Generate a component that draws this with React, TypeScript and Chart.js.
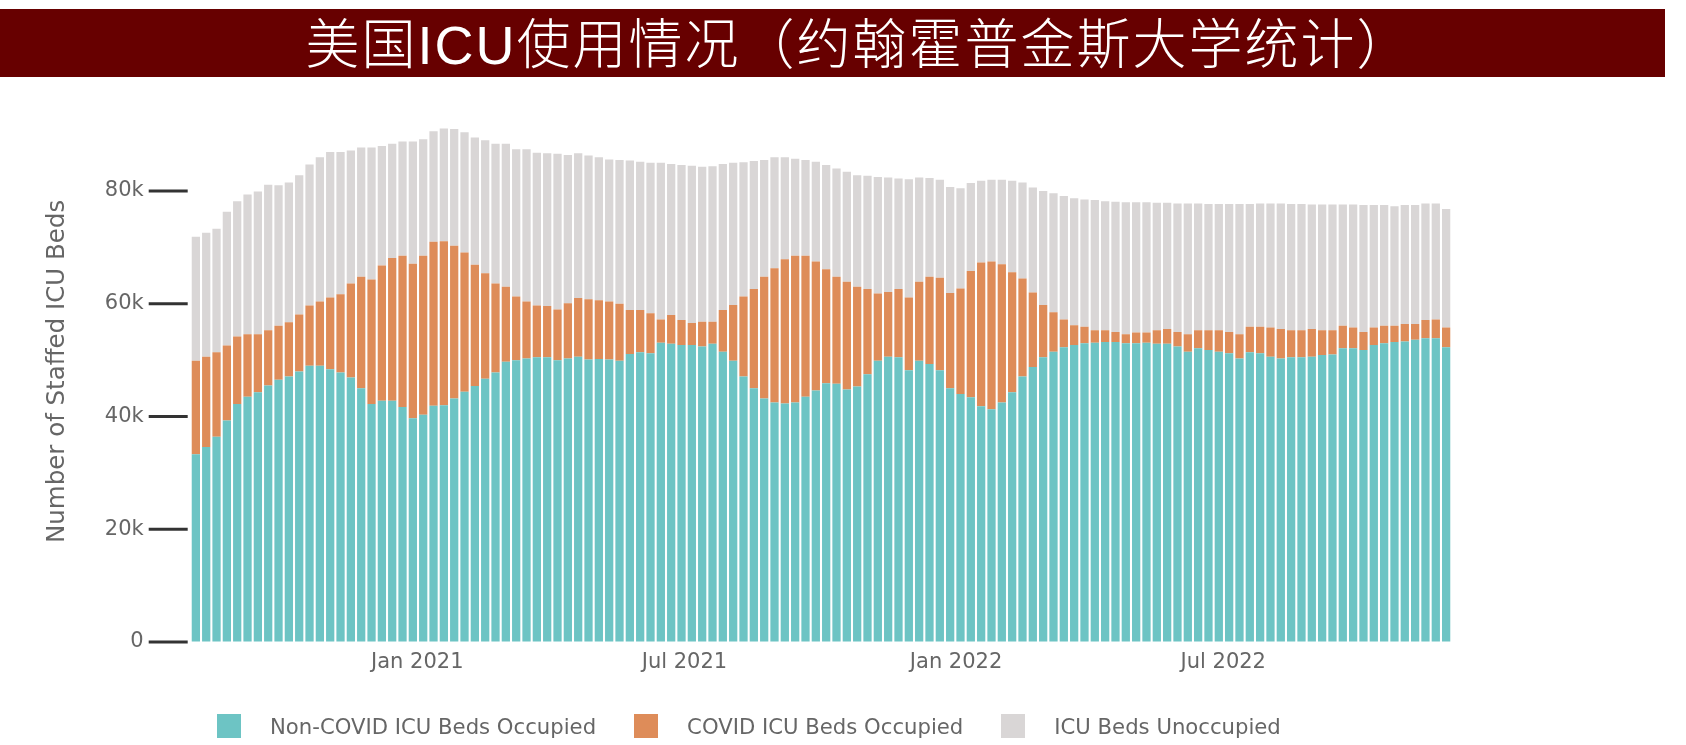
import { useEffect, useRef } from "react";
import { Chart, registerables } from "chart.js";

Chart.register(...registerables);

// Weekly ICU bed counts, one bar per week starting from this date.
const firstWeek = "2020-08-04";

const nonCovidOccupied = [
  33300, 34600, 36400, 39300, 42200, 43500, 44300, 45500, 46500, 47100,
  48000, 49000, 49000, 48400, 47800, 46900, 45000, 42200, 42800, 42800,
  41700, 39700, 40300, 41900, 42000, 43200, 44400, 45400, 46700, 47800,
  49700, 50000, 50300, 50500, 50500, 50000, 50300, 50600, 50100, 50200,
  50100, 49900, 51100, 51400, 51200, 53100, 52900, 52700, 52700, 52400,
  52900, 51500, 49900, 47100, 45000, 43200, 42500, 42300, 42500, 43500,
  44600, 45900, 45800, 44800, 45300, 47500, 49900, 50600, 50500, 48200,
  49900, 49300, 48200, 45000, 44000, 43400, 41800, 41300, 42500, 44300,
  47100, 48800, 50500, 51500, 52300, 52700, 53000, 53100, 53200, 53200,
  53000, 53000, 53100, 52900, 52900, 52400, 51500, 52100, 51800, 51500,
  51200, 50300, 51400, 51200, 50600, 50300, 50500, 50500, 50600, 50900,
  51000, 52100, 52100, 51800, 52700, 53000, 53200, 53300, 53600, 53900,
  53900, 52300,
];

const covidOccupied = [
  16600, 16000, 15000, 13300, 12000, 11100, 10300, 9800, 9600, 9600,
  10100, 10700, 11400, 12700, 13900, 16700, 19800, 22100, 24000, 25300,
  26800, 27400, 28200, 29100, 29100, 27100, 24700, 21500, 18700, 15800,
  13300, 11300, 10100, 9200, 9100, 9000, 9800, 10400, 10700, 10400,
  10300, 10100, 7800, 7500, 7100, 4100, 5100, 4400, 3900, 4400,
  3900, 7400, 9900, 14200, 17600, 21600, 23800, 25600, 26000, 25000,
  22900, 20200, 19000, 19100, 17700, 15100, 11900, 11500, 12100, 12900,
  14000, 15500, 16400, 16900, 18700, 22400, 25500, 26200, 24500, 21300,
  17400, 13200, 9300, 7000, 4900, 3500, 2900, 2200, 2100, 1800,
  1600, 1900, 1800, 2400, 2600, 2600, 3100, 3200, 3500, 3800,
  3800, 4300, 4500, 4700, 5200, 5200, 4800, 4800, 4900, 4400,
  4300, 4000, 3700, 3200, 3100, 3100, 2900, 3100, 2800, 3200,
  3300, 3500,
];

const unoccupiedBeds = [
  22000, 22000, 21900, 23700, 24000, 24800, 25300, 25800, 24900, 24800,
  24700, 25000, 25600, 25800, 25200, 23600, 22900, 23400, 21200, 20300,
  20300, 21700, 20700, 19600, 20000, 20700, 21300, 22600, 23600, 24800,
  25400, 26100, 27000, 27100, 27100, 27600, 26300, 25700, 25500, 25400,
  25200, 25500, 26500, 26300, 26700, 27800, 26800, 27500, 27900, 27500,
  27600, 25900, 25200, 23800, 22700, 20700, 19700, 18100, 17200, 17000,
  17700, 18500, 19200, 19500, 19800, 20100, 20700, 20300, 19600, 21000,
  18500, 17500, 17400, 18800, 17800, 15600, 14500, 14500, 15000, 16200,
  17000, 18600, 20200, 21100, 21900, 22500, 22600, 23100, 22900, 23100,
  23400, 23100, 23100, 22600, 22400, 22800, 23200, 22500, 22400, 22400,
  22700, 23100, 21800, 21900, 22000, 22300, 22400, 22400, 22100, 22300,
  22300, 21500, 21800, 22500, 21700, 21400, 21200, 21100, 21100, 20700,
  20600, 21000,
];

const seriesNames = [
  "Non-COVID ICU Beds Occupied",
  "COVID ICU Beds Occupied",
  "ICU Beds Unoccupied",
];
const seriesColors = ["#6DC4C4", "#DE8C59", "#D9D6D6"];

const xTickDates = ["2021-01-01", "2021-07-01", "2022-01-01", "2022-07-01"];
const xTickLabels = ["Jan 2021", "Jul 2021", "Jan 2022", "Jul 2022"];
const yTickValues = [0, 20000, 40000, 60000, 80000];
const yTickLabels = ["0", "20k", "40k", "60k", "80k"];

const titleText = "美国ICU使用情况（约翰霍普金斯大学统计）";
const yAxisTitle = "Number of Staffed ICU Beds";

const DAY_MS = 86400000;
const dayNumber = (iso: string) => Date.parse(iso + "T00:00:00Z") / DAY_MS;
const weekDays = nonCovidOccupied.map((_, i) => dayNumber(firstWeek) + 7 * i);

const LABEL_COLOR = "#666666";
const AXIS_FONT = "'DejaVu Sans', Verdana, sans-serif";

// Short dark tick marks left of the plot, separated from it by a small gap.
const yTickMarks = {
  id: "yTickMarks",
  afterDraw(chart: any) {
    const { ctx, chartArea } = chart;
    const y = chart.scales.y;
    ctx.save();
    ctx.strokeStyle = "#333333";
    ctx.lineWidth = 3;
    for (const t of y.ticks) {
      const py = y.getPixelForValue(t.value);
      ctx.beginPath();
      ctx.moveTo(chartArea.left - 42, py);
      ctx.lineTo(chartArea.left - 3, py);
      ctx.stroke();
    }
    ctx.restore();
  },
};

export default function App() {
  const canvasRef = useRef<HTMLCanvasElement | null>(null);

  useEffect(() => {
    if (!canvasRef.current) return;
    const series = [nonCovidOccupied, covidOccupied, unoccupiedBeds];
    const chart = new Chart(canvasRef.current, {
      type: "bar",
      data: {
        datasets: series.map((values, s) => ({
          label: seriesNames[s],
          data: weekDays.map((x, i) => ({ x, y: values[i] })),
          backgroundColor: seriesColors[s],
          borderWidth: 0,
          barPercentage: 0.8,
          categoryPercentage: 1,
        })),
      },
      options: {
        animation: false,
        responsive: false,
        devicePixelRatio: 1,
        layout: { padding: { top: 100.8, right: 234.7, bottom: 68, left: 0 } },
        plugins: {
          legend: { display: false },
          tooltip: { enabled: false },
          title: { display: false },
        },
        scales: {
          x: {
            type: "linear",
            stacked: true,
            offset: false,
            min: weekDays[0] - 3.5,
            max: weekDays[weekDays.length - 1] + 3.5,
            grid: { display: false },
            border: { display: false },
            afterBuildTicks: (s: any) => {
              s.ticks = xTickDates.map((d) => ({ value: dayNumber(d) }));
            },
            afterFit: (s: any) => {
              s.height = 35;
            },
            ticks: {
              autoSkip: false,
              maxRotation: 0,
              padding: 0,
              color: LABEL_COLOR,
              font: { family: AXIS_FONT, size: 21 },
              callback: (_v: any, i: number) => xTickLabels[i],
            },
          },
          y: {
            stacked: true,
            min: 0,
            max: 96000,
            afterBuildTicks: (s: any) => {
              s.ticks = yTickValues.map((v) => ({ value: v }));
            },
            afterFit: (s: any) => {
              s.width = 190.7;
            },
            grid: {
              display: true,
              drawOnChartArea: false,
              drawTicks: true,
              tickLength: 42,
              tickColor: "rgba(0,0,0,0)",
            },
            border: { display: false },
            ticks: {
              padding: 5,
              color: LABEL_COLOR,
              font: { family: AXIS_FONT, size: 21 },
              callback: (_v: any, i: number) => yTickLabels[i],
            },
            title: {
              display: true,
              text: yAxisTitle,
              color: LABEL_COLOR,
              font: { family: AXIS_FONT, size: 24.5 },
              padding: { top: 42.6, bottom: 0 },
            },
          },
        },
      },
      plugins: [yTickMarks],
    } as any);
    return () => chart.destroy();
  }, []);

  return (
    <div
      style={{
        position: "absolute",
        left: 0,
        top: 0,
        width: 1686,
        height: 745,
        background: "#ffffff",
        overflow: "hidden",
      }}
    >
      <canvas
        ref={canvasRef}
        width={1686}
        height={745}
        style={{ position: "absolute", left: 0, top: 0, width: 1686, height: 745 }}
      />
      <div
        style={{
          position: "absolute",
          left: 0,
          top: 9,
          width: 1665,
          height: 68,
          background: "#670000",
        }}
      />
      <div
        style={{
          position: "absolute",
          left: 16,
          top: 11,
          width: 1686,
          height: 68,
          lineHeight: "68px",
          textAlign: "center",
          color: "#ffffff",
          fontFamily:
            "'Liberation Sans', 'Noto Sans CJK SC Light', 'Noto Sans CJK SC DemiLight', 'Noto Sans CJK SC', sans-serif",
          fontWeight: 300,
          fontSize: 54,
          letterSpacing: "2px",
          whiteSpace: "nowrap",
        }}
      >
        {titleText}
      </div>
      <div
        style={{
          position: "absolute",
          left: 217,
          top: 714,
          height: 24,
          display: "flex",
          alignItems: "center",
          fontFamily: AXIS_FONT,
          fontSize: 21.2,
          color: LABEL_COLOR,
          whiteSpace: "nowrap",
        }}
      >
        {seriesNames.map((name, s) => (
          <div
            key={name}
            style={{ display: "flex", alignItems: "center", marginLeft: s === 0 ? 0 : 38 }}
          >
            <span
              style={{
                display: "inline-block",
                width: 24,
                height: 24,
                background: seriesColors[s],
                marginRight: 29,
              }}
            />
            <span>{name}</span>
          </div>
        ))}
      </div>
    </div>
  );
}
